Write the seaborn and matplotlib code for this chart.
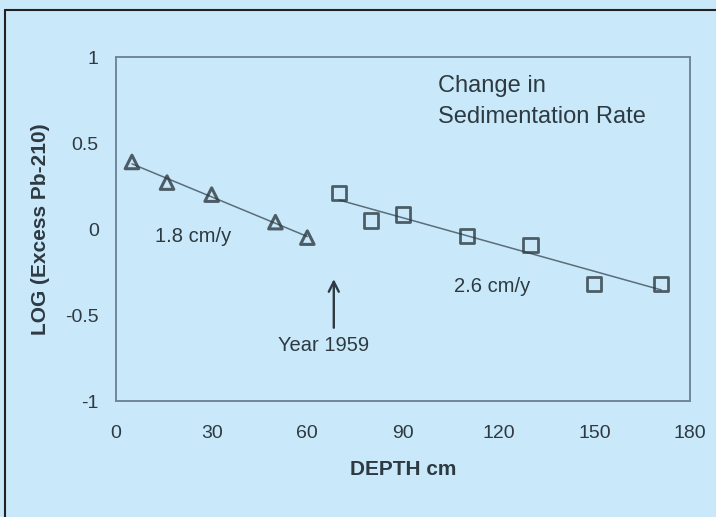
import numpy as np
import pandas as pd
import matplotlib
matplotlib.use("Agg")
import matplotlib.pyplot as plt
import seaborn as sns

# Data
depth_upper = [5, 16, 30, 50, 60]
log_upper = [0.39, 0.27, 0.20, 0.04, -0.05]
depth_lower = [70, 80, 90, 110, 130, 150, 171]
log_lower = [0.21, 0.05, 0.085, -0.04, -0.095, -0.32, -0.32]

x_ticks = [0, 30, 60, 90, 120, 150, 180]
y_ticks = [-1, -0.5, 0, 0.5, 1]
y_tick_labels = ["-1", "-0.5", "0", "0.5", "1"]

bg = "#c9e8f9"
ink = "#2e3a42"
line_c = "#5a6e7a"
spine_c = "#6f8796"

sns.set_theme(style="white")
plt.rcParams["font.family"] = ["Liberation Sans", "DejaVu Sans"]

fig = plt.figure(figsize=(7.16, 5.17), dpi=100, facecolor=bg)
ax = fig.add_axes([0.1620, 0.2243, 0.8017, 0.6654])
ax.set_facecolor(bg)

df_u = pd.DataFrame({"depth": depth_upper, "log": log_upper})
df_l = pd.DataFrame({"depth": depth_lower, "log": log_lower})

sns.regplot(data=df_u, x="depth", y="log", ax=ax, ci=None, marker="^",
            scatter_kws=dict(facecolors="none", edgecolors=ink, s=95, linewidths=2.2, zorder=3),
            line_kws=dict(color=line_c, lw=1.1, zorder=2))
sns.regplot(data=df_l, x="depth", y="log", ax=ax, ci=None, marker="s",
            scatter_kws=dict(facecolors="none", edgecolors=ink, s=105, linewidths=2.0, zorder=3),
            line_kws=dict(color=line_c, lw=1.1, zorder=2))

ax.set_xlim(0, 180)
ax.set_ylim(-1, 1)
ax.set_xticks(x_ticks)
ax.set_xticklabels([str(v) for v in x_ticks])
ax.set_yticks(y_ticks)
ax.set_yticklabels(y_tick_labels)
ax.tick_params(axis="both", direction="inout", length=7, width=1, color=spine_c,
               labelsize=14, labelcolor=ink)
ax.tick_params(axis="x", pad=14)
ax.tick_params(axis="y", pad=9)
for s in ax.spines.values():
    s.set_color(spine_c)
    s.set_linewidth(1.4)

ax.set_xlabel("DEPTH cm", fontsize=15, fontweight="bold", color=ink, labelpad=13)
ax.set_ylabel("LOG (Excess Pb-210)", fontsize=15, fontweight="bold", color=ink, labelpad=11)

ax.text(101, 0.83, "Change in", fontsize=17, color=ink, va="center", ha="left")
ax.text(101, 0.65, "Sedimentation Rate", fontsize=17, color=ink, va="center", ha="left")
ax.text(12.3, -0.045, "1.8 cm/y", fontsize=14.5, color=ink, va="center", ha="left")
ax.text(106, -0.333, "2.6 cm/y", fontsize=14.5, color=ink, va="center", ha="left")
ax.text(65, -0.675, "Year 1959", fontsize=14.5, color=ink, va="center", ha="center")
ax.annotate("", xy=(68.3, -0.275), xytext=(68.3, -0.59),
            arrowprops=dict(arrowstyle="->,head_length=0.6,head_width=0.3", color=ink, lw=1.7))

ax.set_xlim(0, 180)
ax.set_ylim(-1, 1)

# outer frame lines (top & left) as in reference
fig.add_artist(plt.Line2D([0.007, 1.0], [0.981, 0.981], color="#222222", lw=1.5, transform=fig.transFigure))
fig.add_artist(plt.Line2D([0.007, 0.007], [0.0, 0.981], color="#222222", lw=1.5, transform=fig.transFigure))

fig.savefig("out.png", dpi=100, facecolor=bg)
